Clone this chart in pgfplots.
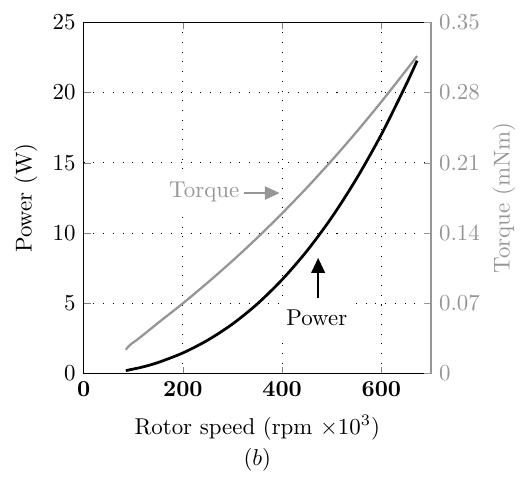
\documentclass[border=0pt]{standalone}
\usepackage{pgfplots}
\pgfplotsset{compat=1.18}
\usetikzlibrary{arrows.meta}
\definecolor{tq}{RGB}{150,150,150}

\pgfplotsset{
  base/.style={
    scale only axis, width=151.8pt, height=153.5pt,
    xmin=0, xmax=700,
    tick align=inside,
    major tick length=3pt,
    axis line style={line width=0.7pt},
  }
}

\begin{document}
\begin{tikzpicture}
\begin{axis}[
  base,
  axis y line*=left,
  ymin=0, ymax=25,
  xtick={0,200,400,600}, ytick={0,5,10,15,20,25},
  xticklabel style={font=\boldmath},
  grid=major,
  grid style={black, line width=0.45pt, dash pattern=on 0.45pt off 3.8pt},
  xlabel={Rotor speed (rpm $\times10^3$)},
  ylabel={Power (W)},
  xlabel style={at={(axis description cs:0.5,-0.154)}, anchor=center},
  ylabel style={at={(axis description cs:-0.166,0.5)}, anchor=center},
  clip=false,
]
% power curve
\addplot[black, line width=1.2pt, smooth] coordinates {
  (85,0.21) (90,0.25) (97,0.30) (105,0.36) (120,0.48) (150,0.79)
  (200,1.47) (250,2.38) (300,3.53) (350,4.96) (400,6.69) (450,8.73)
  (500,11.12) (550,13.88) (600,17.02) (650,20.58) (672,22.27)
};

\node[fill=white, text=tq, inner xsep=2pt, inner ysep=3pt] at (axis cs:243,12.95) {Torque};
\draw[tq, line width=0.6pt, -{Triangle[length=6.5pt,width=5.8pt]}] (axis cs:324,12.85) -- (axis cs:395,12.85);

\node[fill=white, inner xsep=2.5pt, inner ysep=4pt] at (axis cs:470,3.96) {Power};
\draw[black, line width=0.6pt, -{Triangle[length=6.5pt,width=6pt]}] (axis cs:472.6,5.38) -- (axis cs:472.6,8.23);

\node at (axis description cs:0.5,-0.244) {$(b)$};
\path (axis description cs:-0.2408,-0.2857) rectangle (axis description cs:1.2408,1.0636);
\end{axis}

\begin{axis}[
  base,
  axis y line*=right, axis x line=none,
  ymin=0, ymax=0.35,
  ytick={0,0.07,0.14,0.21,0.28,0.35},
  scaled y ticks=false,
  yticklabel style={text=tq, /pgf/number format/fixed, /pgf/number format/precision=2},
  y axis line style={tq},
  ytick style={tq},
  ylabel={Torque (mNm)},
  ylabel style={text=tq, at={(axis description cs:1.21,0.5)}, anchor=center},
]
% torque curve
\addplot[tq, line width=1.0pt, smooth] coordinates {
  (85,0.0238) (90,0.0268) (97,0.0300) (105,0.0327) (120,0.0385)
  (150,0.0505) (200,0.0700) (250,0.0907) (300,0.1124) (350,0.1354)
  (400,0.1597) (450,0.1853) (500,0.2124) (550,0.2409) (600,0.2709)
  (650,0.3023) (672,0.3165)
};
\end{axis}
\end{tikzpicture}
\end{document}
